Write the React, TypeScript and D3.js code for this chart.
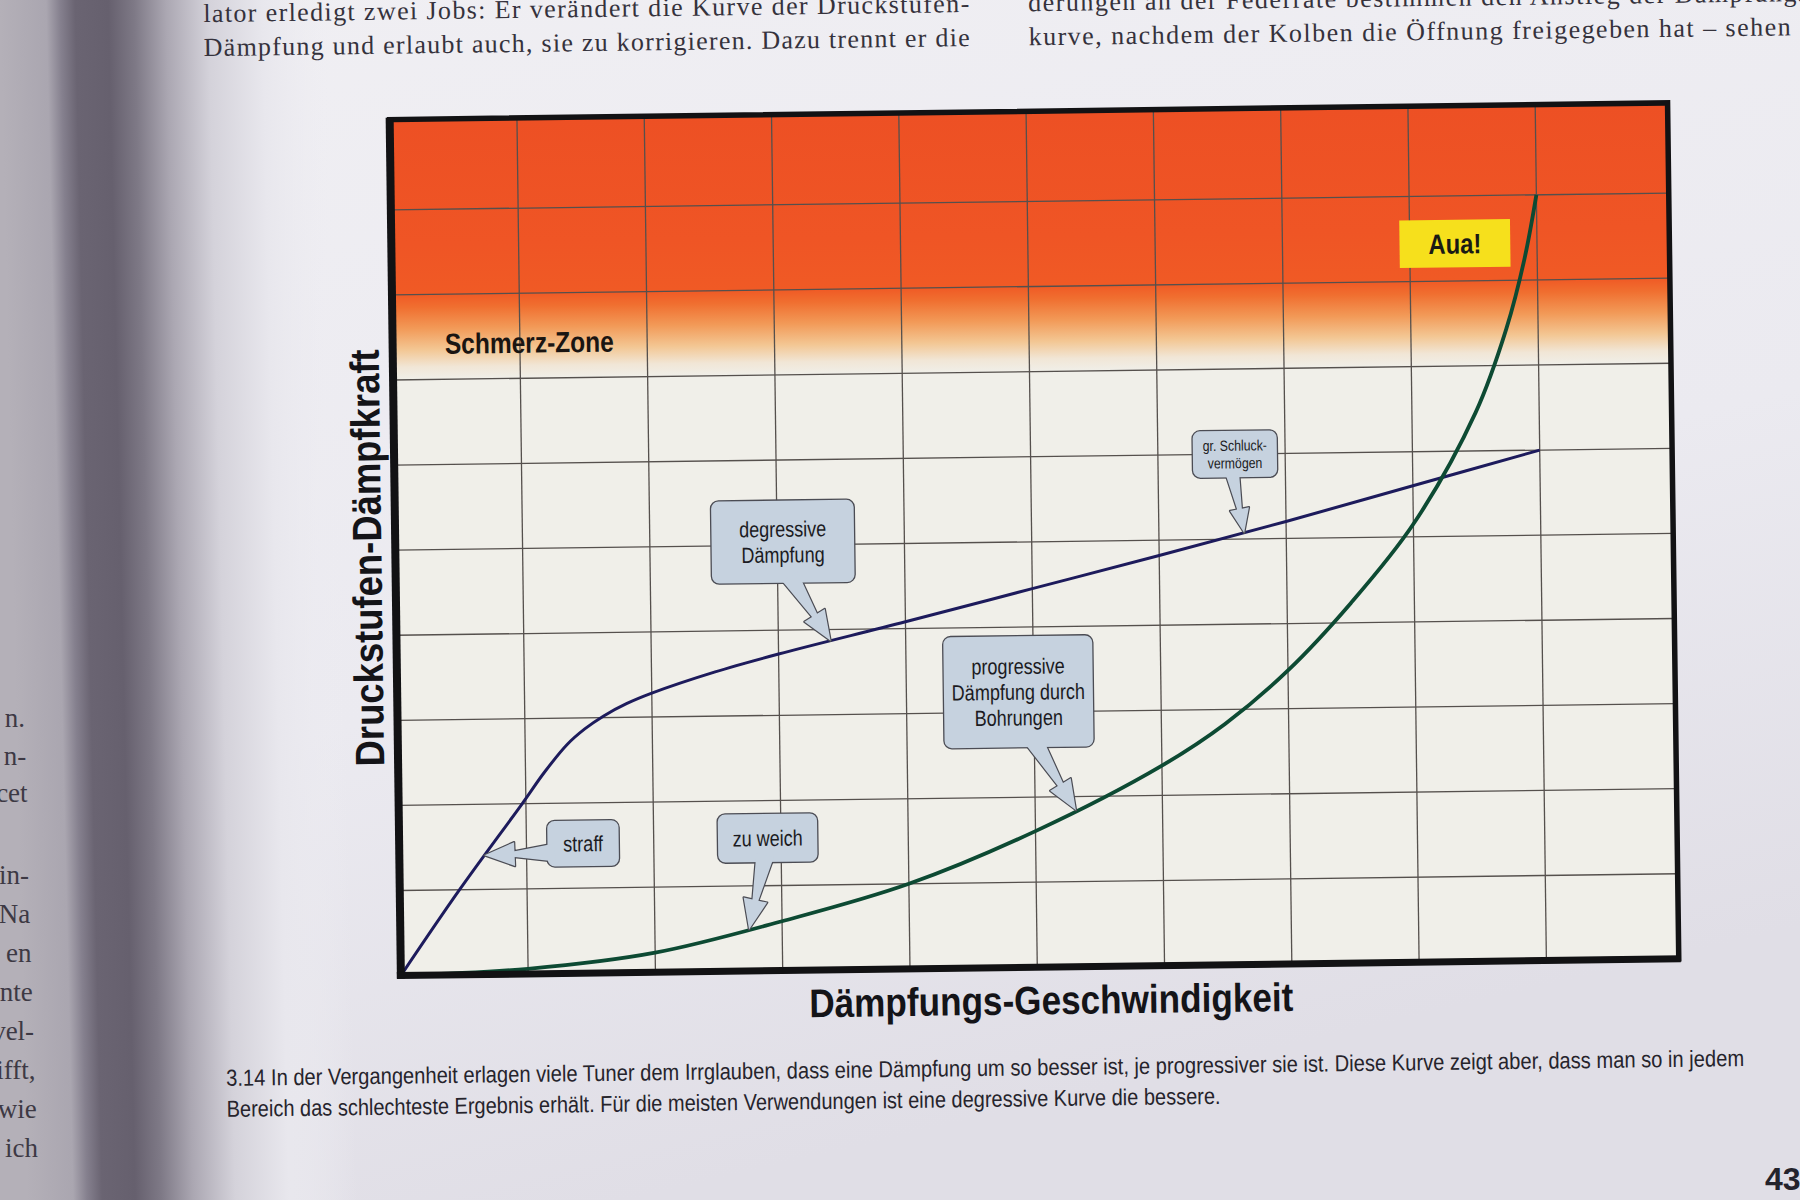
import * as d3 from "d3";
import React from "react";

// grid units: Dämpfungs-Geschwindigkeit (x) / Druckstufen-Dämpfkraft (y), 0..10
const degressiveSpeed = [0, 0.47, 0.97, 1.15, 1.33, 1.47, 1.62, 1.8, 2, 2.5, 3, 4, 5, 6, 7, 8, 9];
const degressiveForce = [0, 1, 2, 2.37, 2.69, 2.87, 3.02, 3.16, 3.28, 3.52, 3.72, 4.08, 4.45, 4.82, 5.2, 5.6, 6.0];
const progressiveSpeed = [0, 1, 2, 3, 4, 5, 6, 6.5, 7, 7.5, 8, 8.5, 8.75, 8.9, 9];
const progressiveForce = [0, 0.06, 0.23, 0.58, 1.0, 1.6, 2.35, 2.83, 3.45, 4.23, 5.15, 6.45, 7.43, 8.25, 9.0];

const gridTicks = d3.range(1, 10);

// orange band of the "Schmerz-Zone": [level, colour], fades out below 8
const painStops: [number, string][] = [
  [10.06, "#ed5024"],
  [8.6, "#ef5525"],
  [8.0, "#f05a25"],
  [7.85, "#f06f30"],
  [7.6, "#f29a58"],
  [7.35, "#f3c794"],
  [7.15, "#f1e6d6"],
  [7.0, "#f0efe9"],
];

const bookLeft = [
  "lator erledigt zwei Jobs: Er verändert die Kurve der Druckstufen-",
  "Dämpfung und erlaubt auch, sie zu korrigieren. Dazu trennt er die",
];
const bookRight = [
  "derungen an der Federrate bestimmen den Anstieg der Dämpfungs-",
  "kurve, nachdem der Kolben die Öffnung freigegeben hat – sehen",
];
const otherPage = ["n.", "n-", "cet", "in-", "Na", "en", "nte", "vel-", "ifft,", "wie", "ich"];
const captionLines = [
  "3.14 In der Vergangenheit erlagen viele Tuner dem Irrglauben, dass eine Dämpfung um so besser ist, je progressiver sie ist. Diese Kurve zeigt aber, dass man so in jedem",
  "Bereich das schlechteste Ergebnis erhält. Für die meisten Verwendungen ist eine degressive Kurve die bessere.",
];

type Callout = {
  lines: string[];
  box: [number, number, number, number]; // x0, x1, y0, y1 in grid units
  series: "deg" | "prog";
  tipX: number;
  side: "bottom" | "left";
  base: number;
  fontSize: number;
};

const callouts: Callout[] = [
  { lines: ["degressive", "Dämpfung"], box: [2.48, 3.61, 4.55, 5.53], series: "deg", tipX: 3.41, side: "bottom", base: 3.13, fontSize: 22 },
  { lines: ["gr. Schluck-", "vermögen"], box: [6.27, 6.94, 5.72, 6.28], series: "deg", tipX: 6.67, side: "bottom", base: 6.59, fontSize: 15 },
  { lines: ["progressive", "Dämpfung durch", "Bohrungen"], box: [4.29, 5.47, 2.58, 3.9], series: "prog", tipX: 5.32, side: "bottom", base: 5.03, fontSize: 22 },
  { lines: ["straff"], box: [1.16, 1.73, 1.25, 1.8], series: "deg", tipX: 0.67, side: "left", base: 1.42, fontSize: 22 },
  { lines: ["zu weich"], box: [2.5, 3.29, 1.27, 1.85], series: "prog", tipX: 2.74, side: "bottom", base: 2.86, fontSize: 22 },
];

const SANS = "'Liberation Sans', Arial, sans-serif";
const SERIF = "'Liberation Serif', 'DejaVu Serif', serif";
const CONDENSE = 0.82;

const W = 1800;
const H = 1200;
const plot = { left: 396, right: 1674, top: 113, bottom: 969 };

const x = d3.scaleLinear().domain([0, 10.04]).range([plot.left, plot.right]);
const y = d3.scaleLinear().domain([0, 10.06]).range([plot.bottom, plot.top]);

const interp = (xs: number[], ys: number[]) => (v: number) => {
  const i = Math.min(Math.max(d3.bisectRight(xs, v), 1), xs.length - 1);
  const t = (v - xs[i - 1]) / (xs[i] - xs[i - 1]);
  return ys[i - 1] + t * (ys[i] - ys[i - 1]);
};
const degAt = interp(degressiveSpeed, degressiveForce);
const progAt = interp(progressiveSpeed, progressiveForce);

const line = d3
  .line<[number, number]>()
  .x((d) => x(d[0]))
  .y((d) => y(d[1]))
  .curve(d3.curveCatmullRom.alpha(0.5));

function arrowPoints(bx: number, by: number, tx: number, ty: number, k: number) {
  const dx = tx - bx;
  const dy = ty - by;
  const len = Math.hypot(dx, dy);
  const ux = dx / len;
  const uy = dy / len;
  const nx = -uy;
  const ny = ux;
  const bw = 9 * k;
  const nw = 3 * k;
  const hw = 12 * k;
  const hl = 30 * k;
  const sx = bx - ux * 8;
  const sy = by - uy * 8;
  const hx = tx - ux * hl;
  const hy = ty - uy * hl;
  const pts = [
    [sx + nx * bw, sy + ny * bw],
    [hx + nx * nw, hy + ny * nw],
    [hx + nx * hw, hy + ny * hw],
    [tx, ty],
    [hx - nx * hw, hy - ny * hw],
    [hx - nx * nw, hy - ny * nw],
    [sx - nx * bw, sy - ny * bw],
  ];
  return pts.map((p) => p.join(",")).join(" ");
}

const CalloutBox: React.FC<{ c: Callout }> = ({ c }) => {
  const [x0, x1, y0, y1] = c.box;
  const left = x(x0);
  const right = x(x1);
  const top = y(y1);
  const bottom = y(y0);
  const tipY = c.series === "deg" ? degAt(c.tipX) : progAt(c.tipX);
  const tx = x(c.tipX);
  const ty = y(tipY);
  const bx = c.side === "bottom" ? x(c.base) : left;
  const by = c.side === "bottom" ? bottom : y(c.base);
  const k = c.fontSize < 18 ? 0.8 : 1;
  const pts = arrowPoints(bx, by, tx, ty, k);
  const fill = "#c6d2df";
  const stroke = "#4b4c54";
  const lh = c.fontSize * 1.17;
  const cx = (left + right) / 2;
  const cy = (top + bottom) / 2;
  return (
    <g>
      <polygon points={pts} fill="none" stroke={stroke} strokeWidth={2.4} strokeLinejoin="round" />
      <rect x={left} y={top} width={right - left} height={bottom - top} rx={8} fill={fill} stroke={stroke} strokeWidth={1.3} />
      <polygon points={pts} fill={fill} />
      {c.lines.map((t, i) => (
        <text
          key={t}
          transform={`translate(${cx},${cy - ((c.lines.length - 1) * lh) / 2 + i * lh + c.fontSize * 0.36}) scale(${CONDENSE},1)`}
          textAnchor="middle"
          fontFamily={SANS}
          fontSize={c.fontSize}
          fill="#1b1b22"
        >
          {t}
        </text>
      ))}
    </g>
  );
};

const App: React.FC = () => {
  const degData = degressiveSpeed.map((v, i) => [v, degressiveForce[i]] as [number, number]);
  const progData = progressiveSpeed.map((v, i) => [v, progressiveForce[i]] as [number, number]);
  const zoneTop = y(10.06);
  const zoneBottom = y(7);

  return (
    <svg
      width={W}
      height={H}
      viewBox={`0 0 ${W} ${H}`}
      style={{ position: "absolute", left: 0, top: 0, display: "block" }}
    >
      <defs>
        <linearGradient id="page" x1="0" y1="0" x2="0.35" y2="1">
          <stop offset="0" stopColor="#f0eff3" />
          <stop offset="0.6" stopColor="#ebeaf0" />
          <stop offset="1" stopColor="#e0dee6" />
        </linearGradient>
        <linearGradient id="gutter" gradientUnits="userSpaceOnUse" x1="0" y1="0" x2="330" y2="0" gradientTransform="skewX(1.3)">
          <stop offset="0" stopColor="#b4b0b8" />
          <stop offset={46 / 330} stopColor="#aaa6b0" />
          <stop offset={60 / 330} stopColor="#85808e" />
          <stop offset={75 / 330} stopColor="#6a6472" />
          <stop offset={108 / 330} stopColor="#66606e" />
          <stop offset={134 / 330} stopColor="#7e7986" />
          <stop offset={166 / 330} stopColor="#aba7b2" />
          <stop offset={208 / 330} stopColor="#d4d2da" />
          <stop offset={262 / 330} stopColor="#e8e7ed" />
          <stop offset="1" stopColor="#eeedf2" stopOpacity="0" />
        </linearGradient>
        <linearGradient id="pain" gradientUnits="userSpaceOnUse" x1="0" y1={zoneTop} x2="0" y2={zoneBottom}>
          {painStops.map(([lv, col]) => (
            <stop key={lv} offset={(y(lv) - zoneTop) / (zoneBottom - zoneTop)} stopColor={col} />
          ))}
        </linearGradient>
      </defs>

      <rect width={W} height={H} fill="url(#page)" />
      <rect width={400} height={H} fill="url(#gutter)" />

      {otherPage.map((t, i) => (
        <text
          key={t}
          x={25 + i * 1.3}
          y={727 + (i < 3 ? i * 37.5 : 157 + (i - 3) * 39)}
          textAnchor="end"
          fontFamily={SERIF}
          fontSize={27}
          fill="#3d3944"
        >
          {t}
        </text>
      ))}

      <g transform="rotate(-0.75 900 600)">
        {bookLeft.map((t, i) => (
          <text key={t} x={211} y={13 + i * 34} fontFamily={SERIF} fontSize={26} fill="#35323c" textLength={766} lengthAdjust="spacing">
            {t}
          </text>
        ))}
        {bookRight.map((t, i) => (
          <text key={t} x={1036} y={13 + i * 34} fontFamily={SERIF} fontSize={26} fill="#35323c" textLength={i === 0 ? 790 : 762} lengthAdjust="spacing">
            {t}
          </text>
        ))}

        <rect x={plot.left} y={plot.top} width={plot.right - plot.left} height={plot.bottom - plot.top} fill="#f0efe9" />
        <rect x={plot.left} y={zoneTop} width={plot.right - plot.left} height={zoneBottom - zoneTop} fill="url(#pain)" />

        {gridTicks.map((t) => (
          <line key={`v${t}`} x1={x(t)} x2={x(t)} y1={plot.top} y2={plot.bottom} stroke="#55504d" strokeWidth={1.3} />
        ))}
        {gridTicks.map((t) => (
          <line key={`h${t}`} x1={plot.left} x2={plot.right} y1={y(t)} y2={y(t)} stroke="#55504d" strokeWidth={1.3} />
        ))}

        <text x={x(0.41)} y={y(7.3)} fontFamily={SANS} fontWeight="bold" fontSize={29} fill="#1a1512" textLength={169} lengthAdjust="spacingAndGlyphs">
          Schmerz-Zone
        </text>

        <path d={line(degData) ?? ""} fill="none" stroke="#1d1b5c" strokeWidth={3} />
        <path d={line(progData) ?? ""} fill="none" stroke="#0d4a33" strokeWidth={3.8} />

        {callouts.map((c) => (
          <CalloutBox key={c.lines.join(" ")} c={c} />
        ))}

        <rect x={x(7.92)} y={y(8.72)} width={x(8.79) - x(7.92)} height={y(8.16) - y(8.72)} fill="#f6e01c" />
        <text
          x={(x(7.92) + x(8.79)) / 2}
          y={(y(8.72) + y(8.16)) / 2 + 10}
          textAnchor="middle"
          fontFamily={SANS}
          fontWeight="bold"
          fontSize={28}
          fill="#1a1a14"
          textLength={53}
          lengthAdjust="spacingAndGlyphs"
        >
          Aua!
        </text>

        <rect x={plot.left} y={plot.top} width={plot.right - plot.left} height={plot.bottom - plot.top} fill="none" stroke="#121214" strokeWidth={5.5} />
        <line x1={plot.left} x2={plot.left} y1={plot.top - 2} y2={plot.bottom + 3} stroke="#121214" strokeWidth={8} />
        <line x1={plot.left - 4} x2={plot.right + 2} y1={plot.bottom} y2={plot.bottom} stroke="#121214" strokeWidth={7} />

        <text
          transform={`translate(382,551) rotate(-90)`}
          textAnchor="middle"
          fontFamily={SANS}
          fontWeight="bold"
          fontSize={41}
          fill="#141418"
          textLength={417}
          lengthAdjust="spacingAndGlyphs"
        >
          Druckstufen-Dämpfkraft
        </text>
        <text
          x={1046}
          y={1016}
          textAnchor="middle"
          fontFamily={SANS}
          fontWeight="bold"
          fontSize={40}
          fill="#141418"
          textLength={484}
          lengthAdjust="spacingAndGlyphs"
        >
          Dämpfungs-Geschwindigkeit
        </text>

        {captionLines.map((t, i) => (
          <text
            key={i}
            x={220}
            y={1077 + i * 31}
            fontFamily={SANS}
            fontSize={23}
            fill="#26242c"
            textLength={i === 0 ? 1518 : 994}
            lengthAdjust="spacingAndGlyphs"
          >
            {t}
          </text>
        ))}
      </g>

      <text x={1765} y={1190} fontFamily={SANS} fontWeight="bold" fontSize={32} fill="#24232c">
        43
      </text>
    </svg>
  );
};

export default App;
